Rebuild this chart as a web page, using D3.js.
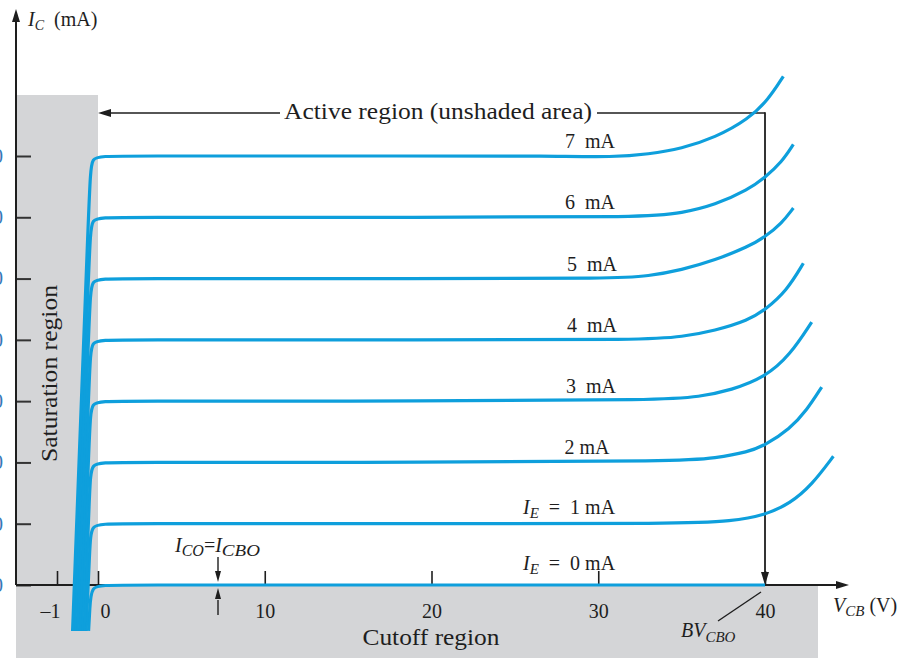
<!DOCTYPE html>
<html>
<head>
<meta charset="utf-8">
<script src="https://cdn.jsdelivr.net/npm/d3@7"></script>
<style>
  html, body { margin: 0; padding: 0; background: #fff; }
  svg { display: block; font-family: "Liberation Serif", "Times New Roman", serif; }
</style>
</head>
<body>
<svg id="chart" width="904" height="658"></svg>
<script>
// Common-base transistor output characteristics: I_C versus V_CB for several emitter currents.
const vTicks = [-1, 0, 10, 20, 30, 40];
const vTickLabels = ["\u20131", "0", "10", "20", "30", "40"];
const iTicks = [0, 1, 2, 3, 4, 5, 6, 7];
const emitterCurrents = [0, 1, 2, 3, 4, 5, 6, 7];

// [V_CB (V), I_C (mA)] points for each emitter current
const ie0 = [[-0.23, -0.75], [-0.2, -0.4], [-0.17, 0], [0.5, 0], [20, 0], [40, 0]];
const ie1 = [[-0.29, -0.75], [-0.2, 0.6], [-0.17, 1], [0.5, 1], [20, 1], [35, 1.0], [38, 1.04], [40, 1.14], [41.5, 1.33], [42.8, 1.63], [44.1, 2.1]];
const ie2 = [[-0.34, -0.75], [-0.2, 1.6], [-0.17, 2], [0.5, 2], [20, 2], [35, 2.02], [37, 2.07], [39, 2.17], [40, 2.28], [41.5, 2.55], [42.5, 2.85], [43.4, 3.23]];
const ie3 = [[-0.40, -0.75], [-0.2, 2.6], [-0.17, 3], [0.5, 3], [20, 3], [34, 3.02], [36, 3.07], [38, 3.18], [40, 3.39], [41.5, 3.75], [42.8, 4.29]];
const ie4 = [[-0.45, -0.75], [-0.2, 3.6], [-0.17, 4], [0.5, 4], [20, 4], [33, 4.0], [35, 4.05], [37, 4.15], [39, 4.32], [40, 4.49], [41.3, 4.8], [42.3, 5.25]];
const ie5 = [[-0.51, -0.75], [-0.2, 4.6], [-0.17, 5], [0.5, 5], [20, 5], [31, 5.0], [33, 5.04], [35, 5.14], [37, 5.3], [39, 5.52], [40, 5.68], [41, 5.9], [41.7, 6.15]];
const ie6 = [[-0.57, -0.75], [-0.2, 5.6], [-0.17, 6], [0.5, 6], [20, 6], [33, 6.0], [35, 6.07], [37, 6.2], [39, 6.45], [40, 6.65], [41, 6.9], [41.7, 7.19]];
const ie7 = [[-0.62, -0.75], [-0.2, 6.6], [-0.17, 7], [0.5, 7], [20, 7], [27, 7.0], [31, 6.98], [33, 7.03], [35, 7.12], [37, 7.3], [39, 7.6], [40.2, 7.92], [41.1, 8.3]];
const curves = [ie0, ie1, ie2, ie3, ie4, ie5, ie6, ie7];

// label text for each curve
const curveLabelValues = ["0 mA", "1 mA", "2 mA", "3  mA", "4  mA", "5  mA", "6  mA", "7  mA"];
const curveLabelCenters = [0, 0, 587, 591, 592, 592, 590, 590];

const BLUE = "#0e9fdc";
const INK = "#1e1e1e";
const SHADE = "#d4d5d7";
const SMALL = 20, SUB = 14, LARGE = 23;

const svg = d3.select("#chart");

const x = d3.scaleLinear().domain([-1, 0, 40]).range([57, 98, 765]);
const y = d3.scaleLinear().domain([0, 7]).range([585, 156]);
const axisX = 16;          // position of the I_C axis
const xAxisEnd = 849;

// shaded regions: saturation (V_CB < 0) and cutoff (I_C < 0)
svg.append("rect")
  .attr("x", axisX).attr("y", 95)
  .attr("width", x(0) - axisX).attr("height", 658 - 95)
  .attr("fill", SHADE);
svg.append("rect")
  .attr("x", axisX).attr("y", y(0))
  .attr("width", 818 - axisX).attr("height", 658 - y(0))
  .attr("fill", SHADE);

// saturation label
svg.append("text")
  .attr("transform", `translate(57, ${ (285 + 462) / 2 }) rotate(-90)`)
  .attr("text-anchor", "middle")
  .attr("font-size", LARGE)
  .attr("textLength", 177).attr("lengthAdjust", "spacingAndGlyphs")
  .attr("fill", INK)
  .text("Saturation region");

// cutoff label
svg.append("text")
  .attr("x", 431).attr("y", 645)
  .attr("text-anchor", "middle")
  .attr("font-size", LARGE)
  .attr("textLength", 137).attr("lengthAdjust", "spacingAndGlyphs")
  .attr("fill", INK)
  .text("Cutoff region");

// I_C axis with ticks pointing right
const yAxis = d3.axisLeft(y).tickValues(iTicks).tickSizeInner(-15).tickSizeOuter(0).tickPadding(13);
const gy = svg.append("g").attr("transform", `translate(${axisX},0)`).call(yAxis);
gy.select(".domain").remove();
gy.selectAll(".tick line").attr("stroke", "#333").attr("stroke-width", 2);
gy.selectAll(".tick text").attr("font-size", SMALL).attr("fill", "#3577b8")
  .attr("font-family", "Liberation Serif, serif");

svg.append("line")
  .attr("x1", axisX).attr("x2", axisX).attr("y1", 20).attr("y2", y(0))
  .attr("stroke", INK).attr("stroke-width", 2);
svg.append("path")
  .attr("d", `M${axisX},9 L${axisX - 4},22 L${axisX + 4},22 Z`)
  .attr("fill", INK);

// V_CB axis with ticks pointing up
const xAxis = d3.axisBottom(x).tickValues(vTicks).tickSizeInner(-14).tickSizeOuter(0).tickPadding(19)
  .tickFormat((d, i) => vTickLabels[i]);
const gx = svg.append("g").attr("transform", `translate(0,${y(0)})`).call(xAxis);
gx.select(".domain").remove();
gx.selectAll(".tick line").attr("stroke", INK).attr("stroke-width", 1.6);
gx.selectAll(".tick text")
  .attr("font-size", SMALL).attr("fill", INK)
  .attr("font-family", "Liberation Serif, serif")
  .attr("dx", d => d === -1 ? -7 : (d === 0 ? 7 : 0));

svg.append("line")
  .attr("x1", axisX).attr("x2", xAxisEnd - 10).attr("y1", y(0)).attr("y2", y(0))
  .attr("stroke", INK).attr("stroke-width", 2);
svg.append("path")
  .attr("d", `M${xAxisEnd},${y(0)} L${xAxisEnd - 13},${y(0) - 4} L${xAxisEnd - 13},${y(0) + 4} Z`)
  .attr("fill", INK);

// active region bracket
const bracketY = 113;
svg.append("line")
  .attr("x1", x(0) + 10).attr("x2", 280).attr("y1", bracketY).attr("y2", bracketY)
  .attr("stroke", INK).attr("stroke-width", 1.6);
svg.append("path")
  .attr("d", `M${x(0)},${bracketY} L${x(0) + 13},${bracketY - 4} L${x(0) + 13},${bracketY + 4} Z`)
  .attr("fill", INK);
svg.append("line")
  .attr("x1", 597).attr("x2", x(40)).attr("y1", bracketY).attr("y2", bracketY)
  .attr("stroke", INK).attr("stroke-width", 1.6);
svg.append("line")
  .attr("x1", x(40)).attr("x2", x(40)).attr("y1", bracketY - 0.8).attr("y2", y(0) - 10)
  .attr("stroke", INK).attr("stroke-width", 1.8);
svg.append("path")
  .attr("d", `M${x(40)},${y(0)} L${x(40) - 4},${y(0) - 13} L${x(40) + 4},${y(0) - 13} Z`)
  .attr("fill", INK);
svg.append("text")
  .attr("x", 284).attr("y", 119)
  .attr("font-size", LARGE)
  .attr("textLength", 308).attr("lengthAdjust", "spacingAndGlyphs")
  .attr("fill", INK)
  .text("Active region (unshaded area)");

// characteristic curves
const line = d3.line().x(d => x(d[0])).y(d => y(d[1])).curve(d3.curveBasis);
svg.append("g").selectAll("path")
  .data(curves)
  .join("path")
  .attr("d", line)
  .attr("fill", "none")
  .attr("stroke", BLUE)
  .attr("stroke-width", 3.2)
  .attr("stroke-linejoin", "round");

// curve labels
const labels = svg.append("g").attr("font-size", SMALL).attr("fill", INK);
emitterCurrents.forEach((ie, i) => {
  const base = ie <= 1 ? y(ie) - (ie === 0 ? 15 : 10) : y(ie) - 8;
  const t = labels.append("text").attr("y", base);
  if (ie <= 1) {
    t.attr("x", 523);
    t.append("tspan").attr("font-style", "italic").text("I");
    t.append("tspan").attr("font-style", "italic").attr("font-size", SUB + 1).attr("dy", 4).text("E");
    t.append("tspan").attr("dy", -4).style("white-space", "pre").text("  =  " + curveLabelValues[i].replace(" ", " "));
  } else {
    t.attr("x", curveLabelCenters[i]).attr("text-anchor", "middle")
      .style("white-space", "pre").text(curveLabelValues[i]);
  }
});

// I_C axis title
const yTitle = svg.append("text").attr("x", 28).attr("y", 26).attr("font-size", SMALL).attr("fill", INK);
yTitle.append("tspan").attr("font-style", "italic").text("I");
yTitle.append("tspan").attr("font-style", "italic").attr("font-size", SUB).attr("dy", 4).text("C");
yTitle.append("tspan").attr("dy", -4).text("\u00a0 (mA)");

// V_CB axis title
const xTitle = svg.append("text").attr("x", 833).attr("y", 612).attr("font-size", SMALL).attr("fill", INK);
xTitle.append("tspan").attr("font-style", "italic").text("V");
xTitle.append("tspan").attr("font-style", "italic").attr("font-size", SUB + 1).attr("dy", 4).text("CB");
xTitle.append("tspan").attr("dy", -4).text(" (V)");

// breakdown voltage callout
svg.append("line")
  .attr("x1", 718).attr("y1", 621).attr("x2", 761).attr("y2", 592)
  .attr("stroke", INK).attr("stroke-width", 1.4);
const bv = svg.append("text").attr("x", 681).attr("y", 637).attr("font-size", SMALL).attr("fill", INK)
  .attr("font-style", "italic");
bv.append("tspan").text("BV");
bv.append("tspan").attr("font-size", SUB + 1).attr("dy", 5).text("CBO");

// leakage current callout
const ico = svg.append("text").attr("x", 175).attr("y", 552).attr("font-size", SMALL).attr("fill", INK);
ico.append("tspan").attr("font-style", "italic").text("I");
ico.append("tspan").attr("font-style", "italic").attr("font-size", SUB + 2).attr("dy", 4).text("CO");
ico.append("tspan").attr("dy", -4).text("=");
ico.append("tspan").attr("font-style", "italic").text("I");
ico.append("tspan").attr("font-style", "italic").attr("font-size", SUB + 2).attr("dy", 4)
  .attr("textLength", 38).attr("lengthAdjust", "spacingAndGlyphs").text("CBO");

const icoX = 218;
svg.append("line").attr("x1", icoX).attr("x2", icoX).attr("y1", 557).attr("y2", 572)
  .attr("stroke", INK).attr("stroke-width", 1.4);
svg.append("path").attr("d", `M${icoX},${y(0) - 3} L${icoX - 3},${y(0) - 14} L${icoX + 3},${y(0) - 14} Z`).attr("fill", INK);
svg.append("line").attr("x1", icoX).attr("x2", icoX).attr("y1", 600).attr("y2", 615)
  .attr("stroke", INK).attr("stroke-width", 1.4);
svg.append("path").attr("d", `M${icoX},${y(0) + 3} L${icoX - 3},${y(0) + 14} L${icoX + 3},${y(0) + 14} Z`).attr("fill", INK);
</script>
</body>
</html>
